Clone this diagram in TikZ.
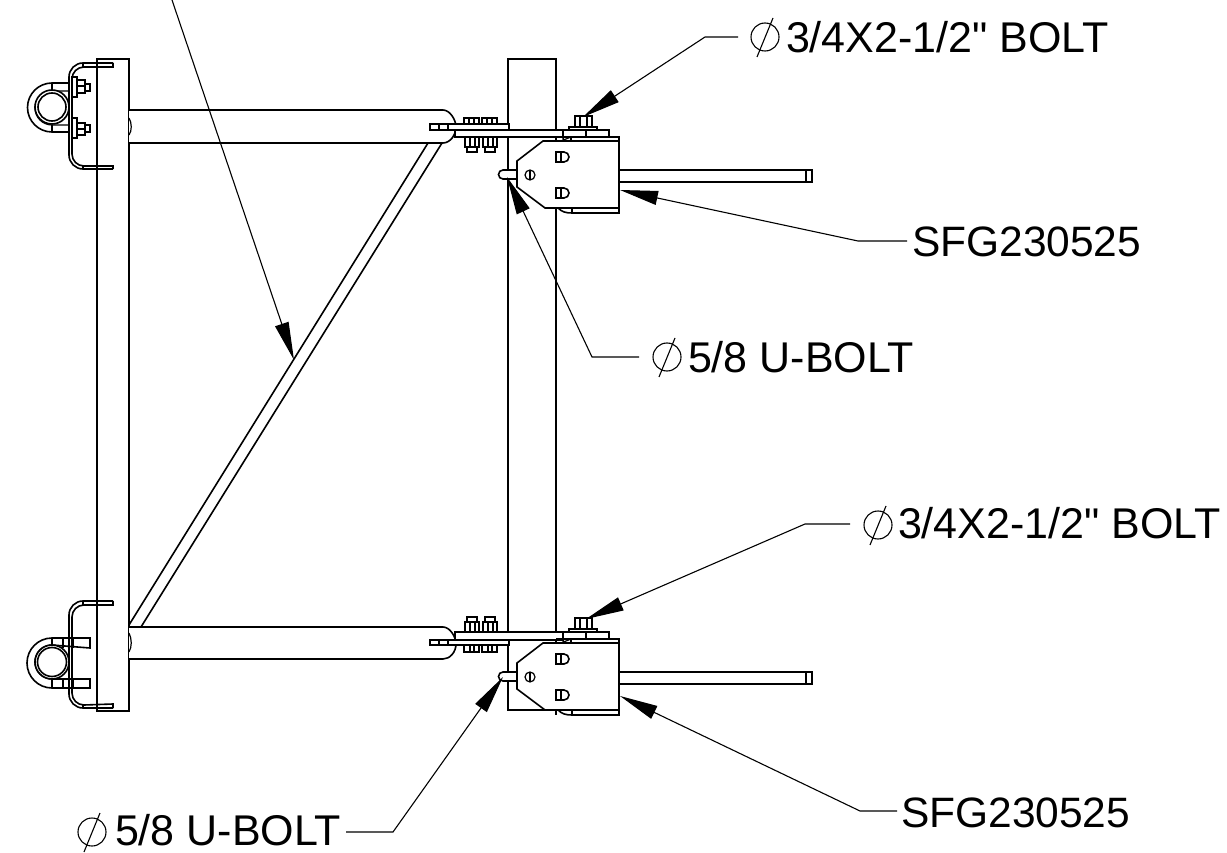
\documentclass[tikz,border=0pt]{standalone}
\usepackage{fontspec}
\newfontfamily\labelfont{Liberation Sans}
\usetikzlibrary{arrows.meta}
\tikzset{
  part/.style={draw=black,line width=1.6pt,line join=miter,fill=white},
  edge/.style={draw=black,line width=1.6pt},
  fine/.style={draw=black,line width=1.2pt},
  leader/.style={draw=black,line width=1.1pt,-{Triangle[length=38pt,width=14pt]}},
  callout/.style={anchor=base west,inner sep=0pt,outer sep=0pt,text=black,font=\labelfont\fontsize{43}{50}\selectfont},
  calloutsm/.style={callout,font=\labelfont\fontsize{42.5}{50}\selectfont},
  phisym/.pic={
    \draw[line width=1.1pt] (0,0) circle[radius=14];
    \draw[line width=1.1pt] (8,-19) -- (-8,20);
  }
}
\newcommand{\bracketparts}{%
  \draw[part] (619,170) rectangle (812,182);
  \draw[fine] (806,170) -- (806,182);
  \draw[part] (517,170) -- (503,170) arc[start angle=-90,end angle=-270,radius=4.5] -- (517,179);
  \draw[part] (563,137) -- (619,137) -- (619,213) -- (572,213) -- (572,208) -- (563,137);
  \draw[part] (558,208) .. controls (562,212) and (566,213) .. (572,213) -- (572,208) -- cycle;
  \draw[part] (543,141) -- (619,141) -- (619,208) -- (545,208) -- (517,187) -- (517,161) -- cycle;
  \draw[edge] (556,137) -- (571,137) -- (571,141);
  \draw[fine] (561,141) -- (571,137);
  \draw[fine] (530,175) circle[radius=5];
  \draw[fine] (530,170) -- (530,180);
  \draw[edge] (556,152) -- (564,152) arc[start angle=-90,end angle=90,radius=5] -- (556,162) -- cycle;
  \draw[fine] (561,152) -- (561,162);
  \draw[edge] (556,188) -- (564,188) arc[start angle=-90,end angle=90,radius=5] -- (556,198) -- cycle;
  \draw[fine] (561,188) -- (561,198);
  \draw[part] (563,130) rectangle (609,137);
  \draw[fine] (586,130) -- (586,137);
  \draw[part] (569,127) rectangle (597,130);
  \draw[part] (575,116) rectangle (592,127);
  \draw[fine] (580,116) -- (580,127);
  \draw[fine] (587,116) -- (587,127);
}
\begin{document}
\begin{tikzpicture}[x=1pt,y=-1pt]
\useasboundingbox (0,0) rectangle (1227,853);
\fill[white] (0,0) rectangle (1227,853);

\draw[edge] (545,710) -- (508,710) -- (508,59) -- (556,59) -- (556,715);
\draw[edge] (97,59) rectangle (129,711);
\draw[edge] (129,625) -- (428,143);
\draw[edge] (141,627) -- (442,143);

\draw[part] (129,110) -- (443,110) .. controls (450,110) and (456,120) .. (456,127) .. controls (456,135) and (450,143) .. (443,143) -- (129,143);
\draw[part] (129,627) -- (443,627) .. controls (450,627) and (456,637) .. (456,644) .. controls (456,652) and (450,659) .. (443,659) -- (129,659);
\draw[fine] (129,118) .. controls (132,123) and (132,131) .. (129,135);
\draw[fine] (129,633) .. controls (132,639) and (132,647) .. (129,652);

\draw[part] (464,118) rectangle (479,124);
\draw[part] (482,118) rectangle (497,124);
\draw[fine] (469,118) -- (469,124) (474,118) -- (474,124) (487,118) -- (487,124) (492,118) -- (492,124);
\draw[part] (465,137) rectangle (479,147);
\draw[part] (467,147) rectangle (477,152);
\draw[part] (483,137) rectangle (497,147);
\draw[part] (485,147) rectangle (495,152);
\draw[fine] (470,137) -- (470,147) (475,137) -- (475,147) (488,137) -- (488,147) (493,137) -- (493,147);
\draw[part] (455,130) rectangle (563,137);
\draw[part] (430,124) rectangle (509,130);
\draw[fine] (439,124) -- (439,130) (448,124) -- (448,130);

\draw[part] (467,617) rectangle (477,622);
\draw[part] (465,622) rectangle (479,632);
\draw[part] (485,617) rectangle (495,622);
\draw[part] (483,622) rectangle (497,632);
\draw[fine] (470,622) -- (470,632) (475,622) -- (475,632) (488,622) -- (488,632) (493,622) -- (493,632);
\draw[part] (464,645) rectangle (479,652);
\draw[part] (482,645) rectangle (497,652);
\draw[fine] (470,645) -- (470,652) (474,645) -- (474,652) (488,645) -- (488,652) (492,645) -- (492,652);
\draw[part] (455,632) rectangle (563,640);
\draw[part] (430,640) rectangle (509,645);
\draw[fine] (439,640) -- (439,645) (448,640) -- (448,645);

\bracketparts
\begin{scope}[shift={(0,502)}]
  \bracketparts
\end{scope}

% top left clamp
\draw[edge] (113,63) -- (83,63) arc[start angle=-90,end angle=-180,radius=14] -- (69,155) arc[start angle=180,end angle=90,radius=14] -- (113,169);
\draw[edge] (113,63) -- (113,67) -- (84,67) arc[start angle=-90,end angle=-180,radius=12] -- (72,154) arc[start angle=180,end angle=90,radius=12] -- (113,166) -- (113,169);
\draw[fine] (83,63) -- (83,67) (83,166) -- (83,169);
\draw[edge] (69,83) -- (52,83) arc[start angle=-90,end angle=-270,radius=24.5] -- (69,132);
\draw[fine] (69,91) -- (52,91) arc[start angle=-90,end angle=-270,radius=17] -- (69,125);
\draw[fine] (52,83) -- (52,91) (52,125) -- (52,132);
\draw[edge,fill=white] (52,107) circle[radius=17];
\draw[edge] (52,107) circle[radius=14];
\draw[part] (72,77) rectangle (77,97);
\draw[part] (77,80) rectangle (85,93);
\draw[part] (85,84) rectangle (90,91);
\draw[fine] (77,86) -- (85,86);
\draw[part] (72,118) rectangle (77,138);
\draw[part] (77,123) rectangle (85,135);
\draw[part] (85,125) rectangle (90,132);
\draw[fine] (77,129) -- (85,129);

% bottom left clamp
\draw[edge] (113,601) -- (83,601) arc[start angle=-90,end angle=-180,radius=14] -- (69,694) arc[start angle=180,end angle=90,radius=14] -- (113,708);
\draw[edge] (113,601) -- (113,605) -- (84,605) arc[start angle=-90,end angle=-180,radius=12] -- (72,693) arc[start angle=180,end angle=90,radius=12] -- (113,704) -- (113,708);
\draw[fine] (83,601) -- (83,605) (83,704) -- (83,708);
\draw[edge] (90,638) -- (52,638) arc[start angle=-90,end angle=-270,radius=25] -- (90,688) -- (90,679) -- (52,679) arc[start angle=90,end angle=270,radius=17] -- (90,648) -- cycle;
\draw[fine] (52,638) -- (52,648) (63,638) -- (63,648) (73,638) -- (73,648);
\draw[fine] (52,679) -- (52,688) (63,679) -- (63,688) (73,679) -- (73,688);
\draw[edge,fill=white] (52,662) circle[radius=17];
\draw[edge] (52,662) circle[radius=14.5];

\node[callout] (boltA) at (786,53) {3/4X2-1/2" BOLT};
\node[calloutsm] (sfgA) at (912,257) {SFG230525};
\node[callout] (ubA) at (688,372) {5/8 U-BOLT};
\node[callout] (boltB) at (898,538) {3/4X2-1/2" BOLT};
\node[calloutsm] (sfgB) at (901,827) {SFG230525};
\node[callout] (ubB) at (115,845) {5/8 U-BOLT};
\pic at (765,37) {phisym};
\pic at (667,357) {phisym};
\pic at (878,525) {phisym};
\pic at (92,832) {phisym};

\coordinate (braceStart) at (172,0);
\coordinate (braceTip) at (294,360);
\coordinate (boltAend) at (738,37);
\coordinate (boltAelb) at (705,37);
\coordinate (boltAtip) at (583,117);
\coordinate (sfgAend) at (907,241);
\coordinate (sfgAelb) at (858,241);
\coordinate (sfgAtip) at (620,190);
\coordinate (ubAend) at (639,357);
\coordinate (ubAelb) at (592,357);
\coordinate (ubAtip) at (507,177);
\coordinate (boltBend) at (850,524);
\coordinate (boltBelb) at (805,524);
\coordinate (boltBtip) at (586,619);
\coordinate (sfgBend) at (897,811);
\coordinate (sfgBelb) at (860,811);
\coordinate (sfgBtip) at (620,696);
\coordinate (ubBend) at (346,832);
\coordinate (ubBelb) at (393,832);
\coordinate (ubBtip) at (503,677);
\draw[leader] (braceStart) -- (braceTip);
\draw[leader] (boltAend) -- (boltAelb) -- (boltAtip);
\draw[leader] (sfgAend) -- (sfgAelb) -- (sfgAtip);
\draw[leader] (ubAend) -- (ubAelb) -- (ubAtip);
\draw[leader] (boltBend) -- (boltBelb) -- (boltBtip);
\draw[leader] (sfgBend) -- (sfgBelb) -- (sfgBtip);
\draw[leader] (ubBend) -- (ubBelb) -- (ubBtip);
\end{tikzpicture}
\end{document}
